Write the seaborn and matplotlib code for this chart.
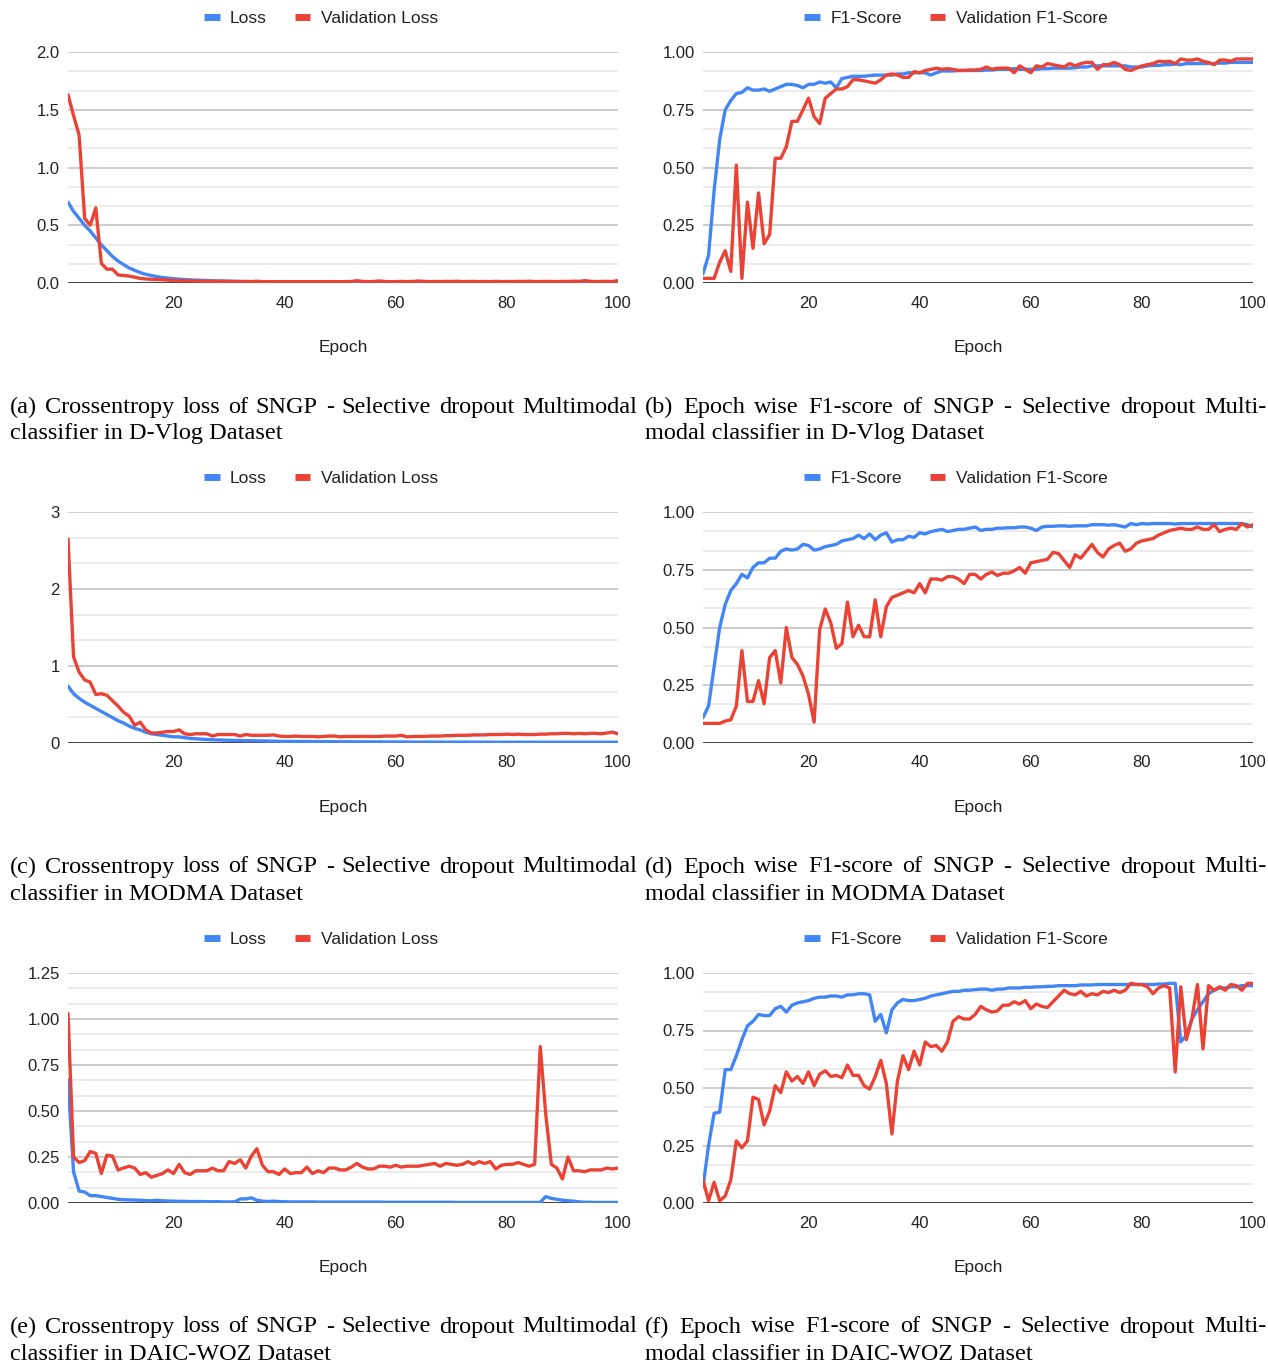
import numpy as np
import pandas as pd
import seaborn as sns
import matplotlib.pyplot as plt
from matplotlib.lines import Line2D
from matplotlib.ticker import AutoMinorLocator

epochs = list(range(1, 101))

# (a) D-Vlog loss
loss_a = [0.70, 0.62, 0.56, 0.50, 0.45, 0.39, 0.33, 0.28, 0.23, 0.19,
          0.16, 0.13, 0.11, 0.09, 0.075, 0.065, 0.055, 0.048, 0.042, 0.037,
          0.033, 0.030, 0.027, 0.025, 0.023, 0.021, 0.019, 0.018, 0.017, 0.016,
          0.015, 0.014, 0.013, 0.012, 0.012, 0.011, 0.011, 0.010, 0.010, 0.009,
          0.009, 0.009, 0.009, 0.009, 0.009, 0.008, 0.008, 0.008, 0.008, 0.008,
          0.008, 0.008, 0.008, 0.008, 0.008, 0.007, 0.007, 0.007, 0.007, 0.007,
          0.007, 0.007, 0.007, 0.007, 0.007, 0.006, 0.006, 0.006, 0.006, 0.006,
          0.006, 0.006, 0.006, 0.006, 0.006, 0.006, 0.006, 0.006, 0.006, 0.006,
          0.005, 0.005, 0.005, 0.005, 0.005, 0.005, 0.005, 0.005, 0.005, 0.005,
          0.005, 0.005, 0.005, 0.005, 0.005, 0.005, 0.005, 0.005, 0.005, 0.005]
val_loss_a = [1.63, 1.45, 1.28, 0.56, 0.50, 0.65, 0.17, 0.12, 0.12, 0.07,
              0.065, 0.06, 0.05, 0.04, 0.035, 0.032, 0.03, 0.028, 0.025, 0.022,
              0.02, 0.02, 0.018, 0.017, 0.016, 0.015, 0.015, 0.014, 0.014, 0.013,
              0.012, 0.012, 0.013, 0.012, 0.015, 0.012, 0.012, 0.011, 0.012, 0.011,
              0.012, 0.011, 0.012, 0.012, 0.011, 0.012, 0.011, 0.012, 0.012, 0.011,
              0.012, 0.013, 0.02, 0.014, 0.012, 0.013, 0.018, 0.013, 0.011, 0.012,
              0.014, 0.012, 0.013, 0.017, 0.014, 0.012, 0.013, 0.012, 0.014, 0.013,
              0.015, 0.012, 0.013, 0.014, 0.012, 0.013, 0.012, 0.014, 0.012, 0.013,
              0.012, 0.014, 0.013, 0.015, 0.012, 0.013, 0.014, 0.013, 0.012, 0.014,
              0.013, 0.016, 0.014, 0.02, 0.015, 0.012, 0.013, 0.014, 0.013, 0.02]

# (b) D-Vlog F1
f1_b = [0.04, 0.12, 0.40, 0.62, 0.75, 0.79, 0.82, 0.825, 0.845, 0.835,
        0.835, 0.84, 0.83, 0.84, 0.85, 0.86, 0.86, 0.855, 0.845, 0.86,
        0.86, 0.87, 0.865, 0.87, 0.845, 0.885, 0.89, 0.895, 0.895, 0.895,
        0.898, 0.90, 0.90, 0.90, 0.90, 0.905, 0.905, 0.91, 0.91, 0.91,
        0.91, 0.90, 0.91, 0.918, 0.918, 0.918, 0.92, 0.92, 0.92, 0.92,
        0.92, 0.922, 0.922, 0.925, 0.925, 0.925, 0.928, 0.925, 0.925, 0.925,
        0.925, 0.928, 0.928, 0.93, 0.93, 0.93, 0.93, 0.932, 0.935, 0.935,
        0.94, 0.94, 0.94, 0.94, 0.94, 0.94, 0.94, 0.935, 0.935, 0.935,
        0.94, 0.942, 0.942, 0.945, 0.945, 0.948, 0.945, 0.95, 0.95, 0.95,
        0.95, 0.95, 0.95, 0.952, 0.952, 0.955, 0.955, 0.955, 0.955, 0.955]
val_f1_b = [0.02, 0.02, 0.02, 0.09, 0.14, 0.05, 0.51, 0.02, 0.35, 0.15,
            0.39, 0.17, 0.21, 0.54, 0.54, 0.59, 0.70, 0.70, 0.75, 0.80,
            0.72, 0.69, 0.80, 0.82, 0.84, 0.84, 0.85, 0.88, 0.88, 0.875,
            0.87, 0.865, 0.88, 0.90, 0.905, 0.90, 0.89, 0.89, 0.915, 0.91,
            0.92, 0.925, 0.93, 0.925, 0.928, 0.925, 0.92, 0.92, 0.922, 0.922,
            0.925, 0.935, 0.925, 0.93, 0.93, 0.93, 0.91, 0.94, 0.925, 0.91,
            0.94, 0.935, 0.95, 0.945, 0.94, 0.935, 0.95, 0.94, 0.95, 0.955,
            0.955, 0.925, 0.945, 0.945, 0.955, 0.945, 0.925, 0.92, 0.93, 0.94,
            0.945, 0.95, 0.96, 0.958, 0.96, 0.95, 0.97, 0.965, 0.965, 0.97,
            0.96, 0.955, 0.945, 0.965, 0.965, 0.96, 0.97, 0.97, 0.97, 0.97]

# (c) MODMA loss
loss_c = [0.74, 0.64, 0.58, 0.53, 0.49, 0.45, 0.41, 0.37, 0.33, 0.29,
          0.26, 0.22, 0.19, 0.17, 0.14, 0.12, 0.11, 0.10, 0.09, 0.08,
          0.08, 0.07, 0.06, 0.055, 0.05, 0.045, 0.042, 0.04, 0.038, 0.035,
          0.033, 0.032, 0.03, 0.03, 0.028, 0.027, 0.025, 0.024, 0.022, 0.02,
          0.02, 0.02, 0.019, 0.019, 0.018, 0.018, 0.018, 0.017, 0.017, 0.016,
          0.016, 0.016, 0.015, 0.015, 0.015, 0.014, 0.014, 0.014, 0.013, 0.013,
          0.013, 0.013, 0.012, 0.012, 0.012, 0.012, 0.012, 0.012, 0.011, 0.011,
          0.011, 0.011, 0.011, 0.011, 0.011, 0.011, 0.011, 0.010, 0.010, 0.010,
          0.010, 0.010, 0.010, 0.010, 0.010, 0.010, 0.010, 0.010, 0.010, 0.010,
          0.010, 0.010, 0.010, 0.010, 0.010, 0.010, 0.010, 0.010, 0.010, 0.010]
val_loss_c = [2.65, 1.12, 0.92, 0.82, 0.79, 0.63, 0.64, 0.62, 0.55, 0.48,
              0.40, 0.35, 0.23, 0.27, 0.17, 0.13, 0.13, 0.14, 0.15, 0.15,
              0.17, 0.12, 0.11, 0.12, 0.12, 0.12, 0.09, 0.11, 0.11, 0.11,
              0.11, 0.09, 0.11, 0.10, 0.10, 0.10, 0.10, 0.105, 0.09, 0.085,
              0.085, 0.09, 0.085, 0.085, 0.085, 0.08, 0.085, 0.09, 0.09, 0.08,
              0.085, 0.085, 0.085, 0.085, 0.085, 0.085, 0.085, 0.09, 0.09, 0.09,
              0.10, 0.08, 0.085, 0.085, 0.085, 0.09, 0.09, 0.09, 0.095, 0.095,
              0.10, 0.10, 0.10, 0.105, 0.105, 0.105, 0.11, 0.11, 0.11, 0.115,
              0.11, 0.115, 0.11, 0.11, 0.11, 0.115, 0.115, 0.12, 0.12, 0.125,
              0.125, 0.12, 0.125, 0.12, 0.125, 0.125, 0.12, 0.13, 0.14, 0.12]

# (d) MODMA F1
f1_d = [0.11, 0.16, 0.33, 0.50, 0.60, 0.66, 0.69, 0.73, 0.715, 0.76,
        0.78, 0.78, 0.80, 0.80, 0.83, 0.84, 0.835, 0.84, 0.86, 0.855,
        0.835, 0.84, 0.85, 0.855, 0.86, 0.875, 0.88, 0.885, 0.90, 0.885,
        0.905, 0.88, 0.90, 0.91, 0.87, 0.88, 0.88, 0.895, 0.89, 0.91,
        0.905, 0.915, 0.92, 0.925, 0.915, 0.92, 0.925, 0.925, 0.93, 0.935,
        0.92, 0.925, 0.925, 0.93, 0.93, 0.932, 0.932, 0.935, 0.935, 0.93,
        0.92, 0.935, 0.938, 0.938, 0.94, 0.94, 0.938, 0.94, 0.94, 0.94,
        0.945, 0.945, 0.945, 0.943, 0.945, 0.94, 0.935, 0.95, 0.945, 0.95,
        0.948, 0.95, 0.95, 0.95, 0.95, 0.948, 0.95, 0.95, 0.95, 0.95,
        0.95, 0.95, 0.95, 0.95, 0.95, 0.95, 0.95, 0.95, 0.945, 0.935]
val_f1_d = [0.085, 0.085, 0.085, 0.085, 0.095, 0.10, 0.16, 0.40, 0.18, 0.18,
            0.27, 0.17, 0.37, 0.40, 0.26, 0.50, 0.37, 0.34, 0.29, 0.21,
            0.09, 0.49, 0.58, 0.52, 0.41, 0.43, 0.61, 0.46, 0.51, 0.46,
            0.46, 0.62, 0.46, 0.59, 0.63, 0.64, 0.65, 0.66, 0.65, 0.69,
            0.65, 0.71, 0.71, 0.705, 0.72, 0.72, 0.71, 0.69, 0.73, 0.73,
            0.71, 0.73, 0.74, 0.725, 0.735, 0.735, 0.745, 0.76, 0.735, 0.78,
            0.785, 0.79, 0.795, 0.825, 0.82, 0.79, 0.76, 0.815, 0.80, 0.83,
            0.86, 0.825, 0.805, 0.84, 0.855, 0.865, 0.83, 0.84, 0.865, 0.875,
            0.88, 0.885, 0.90, 0.91, 0.92, 0.925, 0.93, 0.925, 0.925, 0.935,
            0.925, 0.925, 0.945, 0.915, 0.925, 0.93, 0.925, 0.95, 0.935, 0.945]

# (e) DAIC-WOZ loss
loss_e = [0.67, 0.17, 0.065, 0.06, 0.04, 0.04, 0.035, 0.03, 0.025, 0.02,
          0.018, 0.017, 0.016, 0.015, 0.013, 0.012, 0.015, 0.012, 0.011, 0.01,
          0.009, 0.009, 0.008, 0.008, 0.008, 0.007, 0.007, 0.007, 0.006, 0.006,
          0.006, 0.022, 0.022, 0.028, 0.015, 0.01, 0.008, 0.01, 0.008, 0.007,
          0.006, 0.006, 0.006, 0.006, 0.006, 0.005, 0.005, 0.005, 0.005, 0.005,
          0.005, 0.005, 0.005, 0.005, 0.005, 0.005, 0.005, 0.004, 0.004, 0.004,
          0.004, 0.004, 0.004, 0.004, 0.004, 0.004, 0.004, 0.004, 0.004, 0.004,
          0.003, 0.003, 0.003, 0.003, 0.003, 0.003, 0.003, 0.003, 0.003, 0.003,
          0.003, 0.003, 0.003, 0.003, 0.003, 0.003, 0.035, 0.025, 0.02, 0.015,
          0.012, 0.01, 0.006, 0.004, 0.004, 0.003, 0.003, 0.003, 0.003, 0.003]
val_loss_e = [1.03, 0.25, 0.22, 0.23, 0.28, 0.27, 0.16, 0.26, 0.255, 0.18,
              0.19, 0.20, 0.19, 0.155, 0.165, 0.14, 0.15, 0.16, 0.18, 0.16,
              0.21, 0.165, 0.155, 0.175, 0.175, 0.175, 0.19, 0.175, 0.175, 0.225,
              0.215, 0.235, 0.19, 0.255, 0.295, 0.205, 0.17, 0.17, 0.155, 0.185,
              0.16, 0.165, 0.165, 0.195, 0.16, 0.175, 0.165, 0.19, 0.19, 0.18,
              0.18, 0.195, 0.215, 0.195, 0.185, 0.185, 0.20, 0.20, 0.195, 0.205,
              0.195, 0.20, 0.20, 0.20, 0.205, 0.21, 0.215, 0.20, 0.215, 0.21,
              0.205, 0.21, 0.225, 0.21, 0.225, 0.215, 0.225, 0.185, 0.205, 0.21,
              0.21, 0.22, 0.21, 0.20, 0.21, 0.85, 0.48, 0.21, 0.19, 0.13,
              0.25, 0.175, 0.175, 0.17, 0.18, 0.18, 0.18, 0.19, 0.185, 0.19]

# (f) DAIC-WOZ F1
f1_f = [0.07, 0.25, 0.39, 0.395, 0.58, 0.58, 0.64, 0.71, 0.77, 0.79,
        0.82, 0.815, 0.815, 0.845, 0.855, 0.83, 0.86, 0.87, 0.875, 0.88,
        0.89, 0.895, 0.895, 0.90, 0.90, 0.895, 0.905, 0.905, 0.91, 0.91,
        0.905, 0.79, 0.82, 0.74, 0.84, 0.87, 0.885, 0.88, 0.88, 0.885,
        0.89, 0.90, 0.905, 0.91, 0.915, 0.92, 0.92, 0.925, 0.925, 0.928,
        0.93, 0.93, 0.925, 0.93, 0.93, 0.935, 0.935, 0.935, 0.938, 0.938,
        0.94, 0.94, 0.942, 0.942, 0.945, 0.945, 0.945, 0.945, 0.948, 0.948,
        0.948, 0.95, 0.95, 0.95, 0.95, 0.95, 0.95, 0.95, 0.95, 0.95,
        0.95, 0.95, 0.952, 0.952, 0.955, 0.955, 0.70, 0.73, 0.80, 0.84,
        0.875, 0.91, 0.925, 0.935, 0.935, 0.94, 0.94, 0.945, 0.945, 0.945]
val_f1_f = [0.10, 0.01, 0.09, 0.01, 0.03, 0.10, 0.27, 0.24, 0.27, 0.46,
            0.45, 0.34, 0.40, 0.51, 0.48, 0.57, 0.53, 0.55, 0.52, 0.57,
            0.51, 0.56, 0.575, 0.55, 0.555, 0.545, 0.60, 0.555, 0.555, 0.51,
            0.495, 0.55, 0.62, 0.52, 0.30, 0.53, 0.64, 0.58, 0.66, 0.60,
            0.70, 0.68, 0.685, 0.66, 0.70, 0.79, 0.81, 0.80, 0.80, 0.82,
            0.855, 0.84, 0.83, 0.835, 0.86, 0.86, 0.875, 0.865, 0.88, 0.845,
            0.865, 0.855, 0.85, 0.875, 0.90, 0.925, 0.91, 0.905, 0.92, 0.90,
            0.91, 0.905, 0.92, 0.915, 0.925, 0.915, 0.925, 0.955, 0.95, 0.95,
            0.94, 0.91, 0.935, 0.945, 0.935, 0.57, 0.94, 0.71, 0.80, 0.95,
            0.67, 0.945, 0.925, 0.94, 0.925, 0.95, 0.945, 0.925, 0.955, 0.955]

loss_labels = ["Loss", "Validation Loss"]
f1_labels = ["F1-Score", "Validation F1-Score"]
datasets = ["D-Vlog", "MODMA", "DAIC-WOZ"]

BLUE = "#4285F4"
RED = "#EA4335"
W, H = 1268, 1365
CAP_SIZE = 17.5

sns.set_theme(style="white")
plt.rcParams["font.family"] = ["Liberation Sans", "DejaVu Sans"]

fig = plt.figure(figsize=(W / 100, H / 100), dpi=100)
renderer = fig.canvas.get_renderer()


def justify(line, x0, x1, y, size):
    # spread the words of a caption line over the full column width
    words = line.split(" ")
    arts = [fig.text(0, 0, w, fontsize=size, family="Liberation Serif",
                     color="black", va="center", ha="left") for w in words]
    widths = [a.get_window_extent(renderer=renderer).width for a in arts]
    gap = (x1 - x0 - sum(widths)) / (len(words) - 1)
    x = x0
    for a, w in zip(arts, widths):
        a.set_position((x / W, 1 - y / H))
        x += w + gap


def panel(px0, px1, ptop, pbot, blue, red, labels, ymax, ystep, fmt,
          cap1, cap2, cx0, cx1):
    ax = fig.add_axes([px0 / W, 1 - pbot / H, (px1 - px0) / W, (pbot - ptop) / H])
    df = pd.DataFrame({"epoch": epochs, "blue": blue, "red": red})
    sns.lineplot(data=df, x="epoch", y="blue", ax=ax, color=BLUE, lw=2.4, zorder=3)
    sns.lineplot(data=df, x="epoch", y="red", ax=ax, color=RED, lw=2.4, zorder=4)
    ax.set_xlim(1, 100)
    ax.set_ylim(0, ymax)
    ax.set_xticks([20, 40, 60, 80, 100])
    yt = np.arange(0, ymax + 1e-9, ystep)
    ax.set_yticks(yt)
    ax.set_yticklabels([fmt.format(v) for v in yt])
    ax.yaxis.set_minor_locator(AutoMinorLocator(3))
    ax.grid(which="major", axis="y", color="#cccccc", lw=1.4)
    ax.grid(which="minor", axis="y", color="#ebebeb", lw=1.4)
    ax.grid(axis="x", visible=False)
    ax.axhline(0, color="#333333", lw=2.0, zorder=2)
    for s in ax.spines.values():
        s.set_visible(False)
    ax.tick_params(axis="both", which="both", length=0, labelsize=12, colors="#222222")
    ax.tick_params(axis="x", pad=9)
    ax.tick_params(axis="y", pad=6)
    ax.set_ylabel("")
    ax.set_xlabel("Epoch", fontsize=12.5, color="#222222")
    ax.xaxis.set_label_coords(0.5, -(340 - 283) / 231)
    ax.xaxis.label.set_va("top")
    handles = [Line2D([], [], color=BLUE, lw=5, solid_capstyle="butt"),
               Line2D([], [], color=RED, lw=5, solid_capstyle="butt")]
    leg = ax.legend(handles, labels, loc="center", bbox_to_anchor=(0.46, 1 + 34 / 231),
                    ncol=2, frameon=False, fontsize=12.5, handlelength=0.9,
                    handletextpad=0.6, columnspacing=1.6)
    for t in leg.get_texts():
        t.set_color("#222222")
    cy = pbot + 124
    justify(cap1, cx0, cx1, cy, CAP_SIZE)
    fig.text(cx0 / W, 1 - (cy + 27) / H, cap2, fontsize=CAP_SIZE, family="Liberation Serif",
             color="black", va="center", ha="left")
    return ax


rows = [(52, 283), (512, 743), (973, 1203)]
losses = [(loss_a, val_loss_a, 2.0, 0.5, "{:.1f}"),
          (loss_c, val_loss_c, 3, 1, "{:.0f}"),
          (loss_e, val_loss_e, 1.25, 0.25, "{:.2f}")]
f1s = [(f1_b, val_f1_b), (f1_d, val_f1_d), (f1_f, val_f1_f)]
letters = [("a", "b"), ("c", "d"), ("e", "f")]

for i, (top, bot) in enumerate(rows):
    bl, rl, ymax, ystep, fmt = losses[i]
    la, lb = letters[i]
    panel(68, 618, top, bot, bl, rl, loss_labels, ymax, ystep, fmt,
          f"({la}) Crossentropy loss of SNGP - Selective dropout Multimodal",
          f"classifier in {datasets[i]} Dataset", 10, 637)
    bf, rf = f1s[i]
    panel(703, 1253, top, bot, bf, rf, f1_labels, 1.0, 0.25, "{:.2f}",
          f"({lb}) Epoch wise F1-score of SNGP - Selective dropout Multi-",
          f"modal classifier in {datasets[i]} Dataset", 645, 1267)

fig.savefig("out.png", dpi=100, facecolor="white")
